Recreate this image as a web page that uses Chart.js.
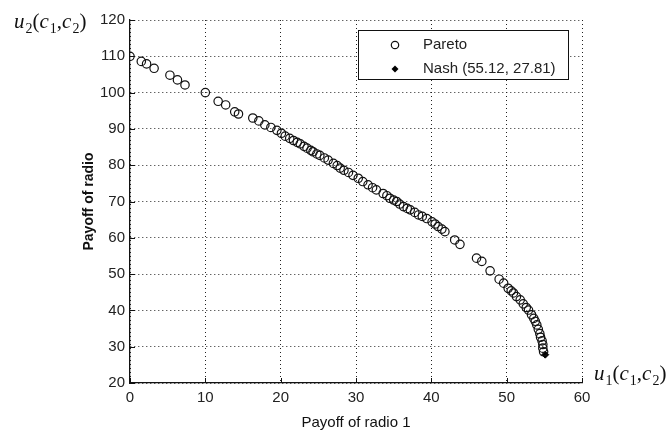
<!DOCTYPE html>
<html>
<head>
<meta charset="utf-8">
<script src="https://cdn.jsdelivr.net/npm/chart.js@4/dist/chart.umd.min.js"></script>
<style>
  html, body { margin: 0; padding: 0; background: #fff; }
  #wrap { width: 672px; height: 436px; position: relative; }
</style>
</head>
<body>
<div id="wrap"><canvas id="c" width="672" height="436"></canvas></div>
<script>
// Pareto frontier: payoff of radio 1 (x) vs payoff of radio 2 (y)
const paretoX = [0, 1.5, 2.2, 3.2, 5.3, 6.3, 7.3, 10, 11.7, 12.7, 13.9, 14.4, 16.3, 17.1, 17.9, 18.7, 19.5,
  20.1, 20.6, 21.2, 21.7, 22.2, 22.6, 23.1, 23.5, 24.0, 24.3, 24.8, 25.2, 25.8, 26.3, 27.0, 27.5, 27.9, 28.4, 29.0, 29.6,
  30.3, 30.9, 31.6, 32.2, 32.7, 33.6, 34.1, 34.5, 35.0, 35.4, 35.8, 36.3, 36.8, 37.2, 37.8, 38.3, 38.8, 39.4, 40.1, 40.5,
  40.9, 41.4, 41.8, 43.1, 43.8, 46.0, 46.7, 47.8, 49.0, 49.6, 50.2, 50.6, 50.9, 51.3, 51.8, 52.2, 52.6, 52.9, 53.3, 53.6,
  53.8, 54.0, 54.2, 54.4, 54.5, 54.7, 54.8, 54.8, 54.9];
const paretoY = [110, 108.6, 107.9, 106.7, 104.8, 103.5, 102.1, 100, 97.6, 96.6, 94.7, 94.1, 93.0, 92.2, 91.1, 90.4, 89.6,
  88.8, 88.0, 87.4, 86.8, 86.3, 85.9, 85.2, 84.7, 84.1, 83.7, 83.1, 82.7, 82.0, 81.4, 80.5, 79.9, 79.2, 78.6, 78.0, 77.2,
  76.4, 75.5, 74.6, 73.8, 73.2, 72.2, 71.6, 70.9, 70.4, 70.0, 69.3, 68.6, 68.1, 67.7, 67.0, 66.3, 65.9, 65.3, 64.4, 63.8,
  63.1, 62.4, 61.7, 59.4, 58.2, 54.4, 53.5, 50.9, 48.6, 47.5, 46.1, 45.4, 44.8, 43.8, 42.9, 41.8, 40.8, 40.1, 38.8, 37.8,
  37.0, 36.0, 34.8, 33.6, 32.6, 31.6, 30.6, 29.6, 28.6];

// Nash equilibrium
const nashX = [55.12];
const nashY = [27.81];

// Axis ticks
const xTicks = [0, 10, 20, 30, 40, 50, 60];
const yTicks = [20, 30, 40, 50, 60, 70, 80, 90, 100, 110, 120];

const seriesLabels = ['Pareto', 'Nash (55.12, 27.81)'];

const toPoints = (xs, ys) => xs.map((x, i) => ({ x: x, y: ys[i] }));

const SANS = '"Liberation Sans", Arial, sans-serif';
const SERIF = '"Liberation Serif", "Times New Roman", serif';

// Draw a math-style label such as u2(c1,c2) with italic letters and subscripts
function drawMathLabel(ctx, x, y, parts) {
  let cx = x;
  parts.forEach(([txt, style]) => {
    if (style === 'sub') {
      ctx.font = '14px ' + SERIF;
      ctx.fillText(txt, cx, y + 5);
    } else if (style === 'it') {
      ctx.font = 'italic 21px ' + SERIF;
      ctx.fillText(txt, cx, y);
    } else {
      ctx.font = '21px ' + SERIF;
      ctx.fillText(txt, cx, y);
    }
    cx += ctx.measureText(txt).width + (style === 'it' ? 1 : 0);
  });
}

const decorPlugin = {
  id: 'decor',
  afterDraw(chart) {
    const ctx = chart.ctx;
    const xs = chart.scales.x, ys = chart.scales.y;
    const area = chart.chartArea;
    ctx.save();

    // inward tick marks on the left and bottom axes
    ctx.strokeStyle = '#111';
    ctx.lineWidth = 1;
    ctx.beginPath();
    xTicks.forEach(v => {
      const px = Math.round(xs.getPixelForValue(v)) + 0.5;
      ctx.moveTo(px, area.bottom);
      ctx.lineTo(px, area.bottom - 5);
    });
    yTicks.forEach(v => {
      const py = Math.round(ys.getPixelForValue(v)) + 0.5;
      ctx.moveTo(area.left, py);
      ctx.lineTo(area.left + 5, py);
    });
    ctx.stroke();

    // legend box inside the plot, upper right
    const bx = 358.5, by = 30.5, bw = 210, bh = 49;
    ctx.fillStyle = '#fff';
    ctx.fillRect(bx, by, bw, bh);
    ctx.strokeStyle = '#111';
    ctx.lineWidth = 1;
    ctx.strokeRect(bx, by, bw, bh);

    const ds = chart.data.datasets;
    const rows = [45, 69];
    ds.forEach((d, i) => {
      const my = rows[i];
      ctx.fillStyle = d.backgroundColor;
      ctx.strokeStyle = d.borderColor;
      ctx.lineWidth = d.borderWidth;
      ctx.beginPath();
      if (d.pointStyle === 'circle') {
        ctx.arc(395, my, d.pointRadius - 0.5, 0, Math.PI * 2);
        ctx.stroke();
      } else {
        const r = d.pointRadius;
        ctx.moveTo(395, my - r); ctx.lineTo(395 + r, my);
        ctx.lineTo(395, my + r); ctx.lineTo(395 - r, my);
        ctx.closePath();
        ctx.fill();
      }
      ctx.fillStyle = '#222';
      ctx.font = '15px ' + SANS;
      ctx.textBaseline = 'middle';
      ctx.textAlign = 'left';
      ctx.fillText(d.label, 423, my);
    });

    // utility-function labels on the axes
    ctx.fillStyle = '#111';
    ctx.textBaseline = 'alphabetic';
    ctx.textAlign = 'left';
    drawMathLabel(ctx, 14, 28, [['u', 'it'], ['2', 'sub'], ['(', 'n'], ['c', 'it'], ['1', 'sub'], [',', 'n'], ['c', 'it'], ['2', 'sub'], [')', 'n']]);
    drawMathLabel(ctx, 594, 380, [['u', 'it'], ['1', 'sub'], ['(', 'n'], ['c', 'it'], ['1', 'sub'], [',', 'n'], ['c', 'it'], ['2', 'sub'], [')', 'n']]);

    ctx.restore();
  }
};

new Chart(document.getElementById('c'), {
  type: 'scatter',
  data: {
    datasets: [
      {
        label: seriesLabels[0],
        data: toPoints(paretoX, paretoY),
        pointStyle: 'circle',
        pointRadius: 4.2,
        borderWidth: 1.2,
        borderColor: '#111',
        backgroundColor: 'rgba(255,255,255,0)'
      },
      {
        label: seriesLabels[1],
        data: toPoints(nashX, nashY),
        pointStyle: 'rectRot',
        pointRadius: 3.5,
        borderWidth: 1,
        borderColor: '#000',
        backgroundColor: '#000'
      }
    ]
  },
  options: {
    responsive: false,
    animation: false,
    devicePixelRatio: 1,
    layout: { padding: { left: 81, right: 90, top: 20, bottom: 4 } },
    plugins: {
      legend: { display: false },
      tooltip: { enabled: false }
    },
    scales: {
      x: {
        type: 'linear',
        min: 0, max: 60,
        afterBuildTicks: s => { s.ticks = xTicks.map(v => ({ value: v })); },
        afterFit: s => { s.height = 49; },
        grid: { color: '#222', lineWidth: 1, drawTicks: false },
        border: { display: true, color: '#111', width: 1.3, dash: [1, 3] },
        ticks: { color: '#222', font: { family: SANS, size: 15 }, padding: 6, maxRotation: 0 },
        title: { display: true, text: 'Payoff of radio 1', color: '#111', font: { family: SANS, size: 15 }, padding: { top: 2, bottom: 0 } }
      },
      y: {
        type: 'linear',
        min: 20, max: 120,
        afterBuildTicks: s => { s.ticks = yTicks.map(v => ({ value: v })); },
        afterFit: s => { s.width = 49; },
        grid: { color: '#222', lineWidth: 1, drawTicks: false },
        border: { display: true, color: '#111', width: 1.3, dash: [1, 3] },
        ticks: { color: '#222', font: { family: SANS, size: 15 }, padding: 5 },
        title: { display: true, text: 'Payoff of radio', color: '#111', font: { family: SANS, size: 14, weight: 'bold' }, padding: 0 }
      }
    },
    elements: { point: { hoverRadius: 4 } }
  },
  plugins: [decorPlugin]
});
</script>
</body>
</html>
